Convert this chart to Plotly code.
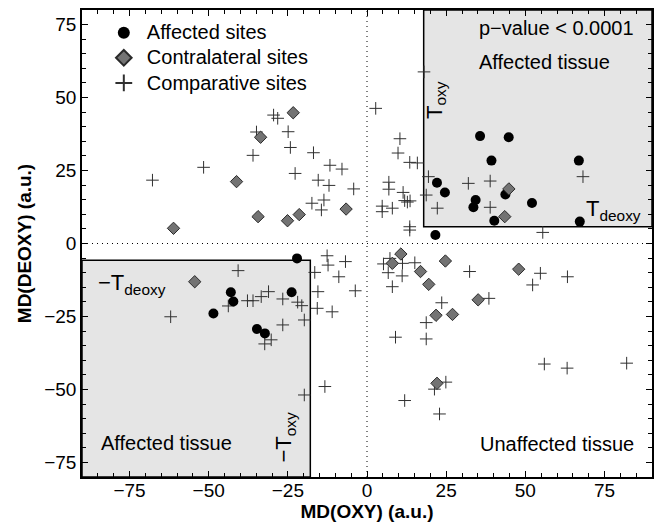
import plotly.graph_objects as go

# ---- data ----
affected_x = [35.7, 44.75, 39.3, 66.9, 22.1, 24.6, 34.3, 33.6, 43.7, 52.1, 40.2, 67.2, 21.6,
              -22.1, -43.0, -42.2, -48.5, -23.8, -34.75, -32.25]
affected_y = [36.8, 36.4, 28.4, 28.4, 20.8, 17.5, 14.9, 12.4, 16.8, 13.9, 7.8, 7.5, 2.9,
              -5.1, -16.7, -19.9, -24.0, -16.7, -29.3, -30.8]

contra_x = [-33.6, -23.3, -41.2, -34.4, -61.1, -6.6, -21.4, -25.1, 44.8, 43.5, -54.4,
            10.7, 8.0, 16.9, 19.5, 24.75, 47.9, 35.1, 21.8, 27.0, 22.1]
contra_y = [36.4, 44.8, 21.2, 9.2, 5.2, 11.8, 9.9, 7.8, 18.7, 9.2, -13.1,
            -3.6, -6.8, -9.6, -14.0, -6.0, -8.8, -19.3, -24.6, -24.3, -47.9]

comp_x = [18.0, 19.4, 18.7, 22.2, 32.0, 38.9, 38.9, 68.2, 55.5, 13.5, 13.5,
          2.75, 10.4, 9.8, 13.5, 15.9, 6.9, 6.9, 11.4, 11.9, 12.75, 13.6, 4.8, 4.8, 8.0,
          -29.5, -28.2, -24.9, -24.2, -16.9, -11.7, -7.9, -22.7, -15.4, -12.0, -4.2,
          -17.4, -13.6, -14.4, -34.9, -36.0, -51.6, -67.75,
          -40.7, -62.0, -43.8, -37.75, -36.0, -33.4, -31.1, -26.6, -21.9, -20.6, -19.8,
          -26.6, -32.3, -30.25, -12.6, -12.3, -16.5, -15.5, -15.7, -11.0, -19.8, -13.3,
          -6.8, -8.9, -3.7, 7.25, 5.2, 11.2, 15.1, 6.7, 11.1, 8.0, 32.4, 54.75, 63.3,
          52.3, 38.5, 23.6, 18.7, 9.0, 18.7, 56.0, 63.2, 82.0, 24.9, 21.3, 11.9, 22.9]
comp_y = [58.8, 22.9, 16.6, 12.1, 20.6, 21.4, 12.4, 22.9, 3.8, 5.75, 4.6,
          46.3, 35.9, 31.0, 27.8, 27.6, 21.0, 18.6, 17.5, 14.7, 14.2, 14.6, 12.8, 10.9, 12.1,
          44.0, 42.9, 38.3, 32.9, 31.1, 26.8, 25.5, 24.0, 21.7, 19.9, 18.7,
          13.8, 14.9, 11.5, 38.2, 30.2, 26.1, 21.7,
          -9.3, -25.1, -21.4, -19.6, -19.6, -18.2, -16.5, -19.0, -20.1, -21.3, -26.2,
          -27.9, -34.4, -33.0, -4.2, -7.4, -9.9, -16.5, -22.2, -23.4, -51.9, -49.0,
          -6.2, -11.4, -16.2, -5.1, -7.0, -6.8, -6.6, -10.0, -11.1, -14.8, -9.6, -10.2, -11.4,
          -14.2, -18.8, -20.3, -27.1, -32.1, -32.7, -41.3, -42.7, -41.0, -47.5, -49.9, -53.8, -58.4]

series_names = ["Affected sites", "Contralateral sites", "Comparative sites"]

T_oxy = 17.9
T_deoxy = 5.7
x_range = [-90, 90]
y_range = [-80, 80]
tick_vals = [-75, -50, -25, 0, 25, 50, 75]

FONT = "Liberation Sans, Arial, sans-serif"


def legend_label(s):
    return '<span style="font-size:20px">' + s + "</span>"


fig = go.Figure()

fig.add_trace(go.Scatter(
    x=comp_x, y=comp_y, mode="markers", name=legend_label(series_names[2]), legendrank=3,
    marker=dict(symbol="cross-thin", size=9, line=dict(color="#303030", width=1), color="#303030"),
))
fig.add_trace(go.Scatter(
    x=affected_x, y=affected_y, mode="markers", name=legend_label(series_names[0]), legendrank=1,
    marker=dict(symbol="circle", size=10, color="black"),
))
fig.add_trace(go.Scatter(
    x=contra_x, y=contra_y, mode="markers", name=legend_label(series_names[1]), legendrank=2,
    marker=dict(symbol="diamond", size=9.5, color="#737373", line=dict(color="#2a2a2a", width=1)),
))

# shaded regions
fig.add_shape(type="rect", x0=T_oxy, x1=x_range[1], y0=T_deoxy, y1=y_range[1],
              fillcolor="#e5e5e5", line=dict(color="black", width=1.5), layer="below")
fig.add_shape(type="rect", x0=x_range[0], x1=-T_oxy, y0=y_range[0], y1=-T_deoxy,
              fillcolor="#e5e5e5", line=dict(color="black", width=1.5), layer="below")
# dotted zero lines
fig.add_shape(type="line", x0=0, x1=0, y0=y_range[0], y1=y_range[1],
              line=dict(color="black", width=1, dash="1px,4px"), layer="below")
fig.add_shape(type="line", x0=x_range[0], x1=x_range[1], y0=0, y1=0,
              line=dict(color="black", width=1, dash="1px,4px"), layer="below")

ann_font = dict(family=FONT, size=20, color="black")
T_font = dict(family=FONT, size=22, color="black")
anns = [
    dict(x=34.8, y=73.8, text="p\u2212value < 0.0001", xanchor="left", yanchor="middle", font=ann_font),
    dict(x=34.8, y=62.3, text="Affected tissue", xanchor="left", yanchor="middle", font=ann_font),
    dict(x=-84.5, y=-68.5, text="Affected tissue", xanchor="left", yanchor="middle", font=ann_font),
    dict(x=84.8, y=-68.8, text="Unaffected tissue", xanchor="right", yanchor="middle", font=ann_font),
    dict(x=21.7, y=49.1, text="T<sub>oxy</sub>", textangle=-90, xanchor="center", yanchor="middle", font=T_font),
    dict(x=77.7, y=11.5, text="T<sub>deoxy</sub>", xanchor="center", yanchor="middle", font=T_font),
    dict(x=-74.1, y=-14.0, text="\u2212T<sub>deoxy</sub>", xanchor="center", yanchor="middle", font=T_font),
    dict(x=-25.8, y=-66.4, text="\u2212T<sub>oxy</sub>", textangle=-90, xanchor="center", yanchor="middle", font=T_font),
]
for a in anns:
    fig.add_annotation(showarrow=False, xref="x", yref="y", **a)

axis_common = dict(
    showline=True, linecolor="black", linewidth=1.5, mirror="ticks",
    ticks="inside", ticklen=6, tickcolor="black", tickwidth=1,
    showgrid=False, zeroline=False,
    tickfont=dict(family=FONT, size=19, color="black"),
    minor=dict(ticks="inside", ticklen=4, dtick=5, tickcolor="black", tickwidth=1, showgrid=False),
)

fig.update_xaxes(range=x_range, tickvals=tick_vals, ticklabelstandoff=-5,
                 title=dict(text="<b>MD(OXY) (a.u.)</b>", font=dict(family=FONT, size=19, color="black"), standoff=0),
                 **axis_common)
fig.update_yaxes(range=y_range, tickvals=tick_vals,
                 title=dict(text="<b>MD(DEOXY) (a.u.)</b>", font=dict(family=FONT, size=19, color="black"), standoff=8),
                 **axis_common)

fig.update_layout(
    width=655, height=528,
    margin=dict(l=82, r=1, t=10, b=51),
    plot_bgcolor="white", paper_bgcolor="white",
    font=dict(family=FONT, color="black"),
    legend=dict(x=0.033, y=0.989, xanchor="left", yanchor="top",
                bgcolor="rgba(0,0,0,0)", font=dict(family=FONT, size=17, color="black"),
                tracegroupgap=0, itemsizing="constant", itemwidth=36),
)

fig.write_html("out.html")
